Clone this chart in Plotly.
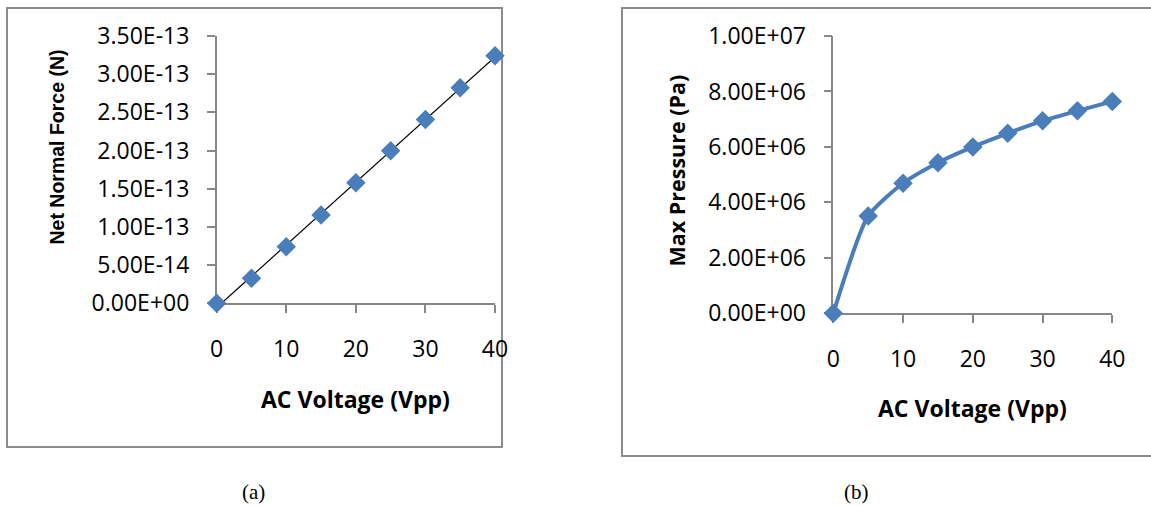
import numpy as np
import plotly.graph_objects as go

W, H = 1151, 506

# ---- data ----
voltage = [0, 5, 10, 15, 20, 25, 30, 35, 40]
net_force = [0.0, 3.27e-14, 7.41e-14, 1.156e-13, 1.579e-13, 1.997e-13, 2.408e-13, 2.822e-13, 3.241e-13]
max_pressure = [0.0, 3.51e6, 4.69e6, 5.43e6, 6.00e6, 6.49e6, 6.94e6, 7.30e6, 7.64e6]

x_ticks = [0, 10, 20, 30, 40]
force_ticks = [0, 0.5e-13, 1.0e-13, 1.5e-13, 2.0e-13, 2.5e-13, 3.0e-13, 3.5e-13]
pressure_ticks = [0, 2e6, 4e6, 6e6, 8e6, 1e7]

x_title = "AC Voltage (Vpp)"
y_title_a = "Net Normal Force (N)"
y_title_b = "Max Pressure (Pa)"
captions = ["(a)", "(b)"]

BLUE = "#4A7EBB"
GRAY = "#878787"
FRAME = "#8C8C8C"
TICKFONT = dict(family="Open Sans", size=23, color="#000000")


def px(x):
    return x / W


def py(y):
    return 1 - y / H


# linear trendline from data
coef = np.polyfit(voltage, net_force, 1)
trend_x = [min(voltage), max(voltage)]
trend_y = list(np.polyval(coef, trend_x))

fig = go.Figure()

fig.add_trace(go.Scatter(
    x=trend_x, y=trend_y, mode="lines",
    line=dict(color="#000000", width=1.2),
    xaxis="x", yaxis="y", showlegend=False, cliponaxis=False, hoverinfo="skip",
))
fig.add_trace(go.Scatter(
    x=voltage, y=net_force, mode="markers",
    marker=dict(symbol="diamond", size=15, color=BLUE, line=dict(width=0)),
    xaxis="x", yaxis="y", showlegend=False, cliponaxis=False,
))
fig.add_trace(go.Scatter(
    x=voltage, y=max_pressure, mode="lines+markers",
    line=dict(color=BLUE, width=4, shape="spline", smoothing=0.6),
    marker=dict(symbol="diamond", size=15, color=BLUE, line=dict(width=0)),
    xaxis="x2", yaxis="y2", showlegend=False, cliponaxis=False,
))

common_x = dict(
    range=[0, 40], tickvals=x_ticks, ticktext=[str(v) for v in x_ticks],
    showline=True, linecolor=GRAY, linewidth=1.5, ticks="outside",
    ticklen=8, tickwidth=1.5, tickcolor=GRAY, showgrid=False, zeroline=False,
    tickfont=TICKFONT, ticklabelstandoff=16, fixedrange=True, automargin=False,
    layer="below traces",
)
common_y = dict(
    showline=True, linecolor=GRAY, linewidth=1.5, ticks="outside",
    ticklen=8, tickwidth=1.5, tickcolor=GRAY, showgrid=False, zeroline=False,
    tickfont=TICKFONT, ticklabelstandoff=13, fixedrange=True, automargin=False,
    layer="below traces",
)

fig.update_layout(
    template="none",
    width=W, height=H,
    margin=dict(l=0, r=0, t=0, b=0, pad=0, autoexpand=False),
    paper_bgcolor="white", plot_bgcolor="rgba(0,0,0,0)",
    xaxis=dict(domain=[px(216.7), px(495)], anchor="y", **common_x),
    yaxis=dict(domain=[py(303.3), py(36)], anchor="x", range=[0, 3.5e-13],
               tickvals=force_ticks, ticktext=[f"{v:.2E}" for v in force_ticks],
               **common_y),
    xaxis2=dict(domain=[px(833.3), px(1112.3)], anchor="y2", **common_x),
    yaxis2=dict(domain=[py(313.3), py(36)], anchor="x2", range=[0, 1e7],
                tickvals=pressure_ticks, ticktext=[f"{v:.2E}" for v in pressure_ticks],
                **common_y),
)

# chart frames
fig.add_shape(type="rect", xref="paper", yref="paper",
              x0=px(7), x1=px(502), y0=py(447), y1=py(8),
              line=dict(color=FRAME, width=2), fillcolor="rgba(0,0,0,0)", layer="below")
fig.add_shape(type="rect", xref="paper", yref="paper",
              x0=px(622), x1=px(1160), y0=py(456), y1=py(8),
              line=dict(color=FRAME, width=2), fillcolor="rgba(0,0,0,0)", layer="below")

BOLD = dict(family="Open Sans", size=23, color="#000000", weight="bold")
annots = [
    dict(text=x_title, x=px(355.5), y=py(399), font=BOLD),
    dict(text=x_title, x=px(972.5), y=py(408), font=BOLD),
    dict(text=y_title_a, x=px(56), y=py(147.5), textangle=-90,
         font=dict(family="Liberation Sans", size=19.5, color="#000000", weight="bold")),
    dict(text=y_title_b, x=px(676), y=py(170.5), textangle=-90,
         font=dict(family="Open Sans", size=21.5, color="#000000", weight="bold")),
    dict(text=captions[0], x=px(253), y=py(492),
         font=dict(family="Liberation Serif", size=21, color="#000000")),
    dict(text=captions[1], x=px(856), y=py(492),
         font=dict(family="Liberation Serif", size=21, color="#000000")),
]
for a in annots:
    fig.add_annotation(xref="paper", yref="paper", xanchor="center", yanchor="middle",
                       showarrow=False, **a)

fig.write_html("out.html")
